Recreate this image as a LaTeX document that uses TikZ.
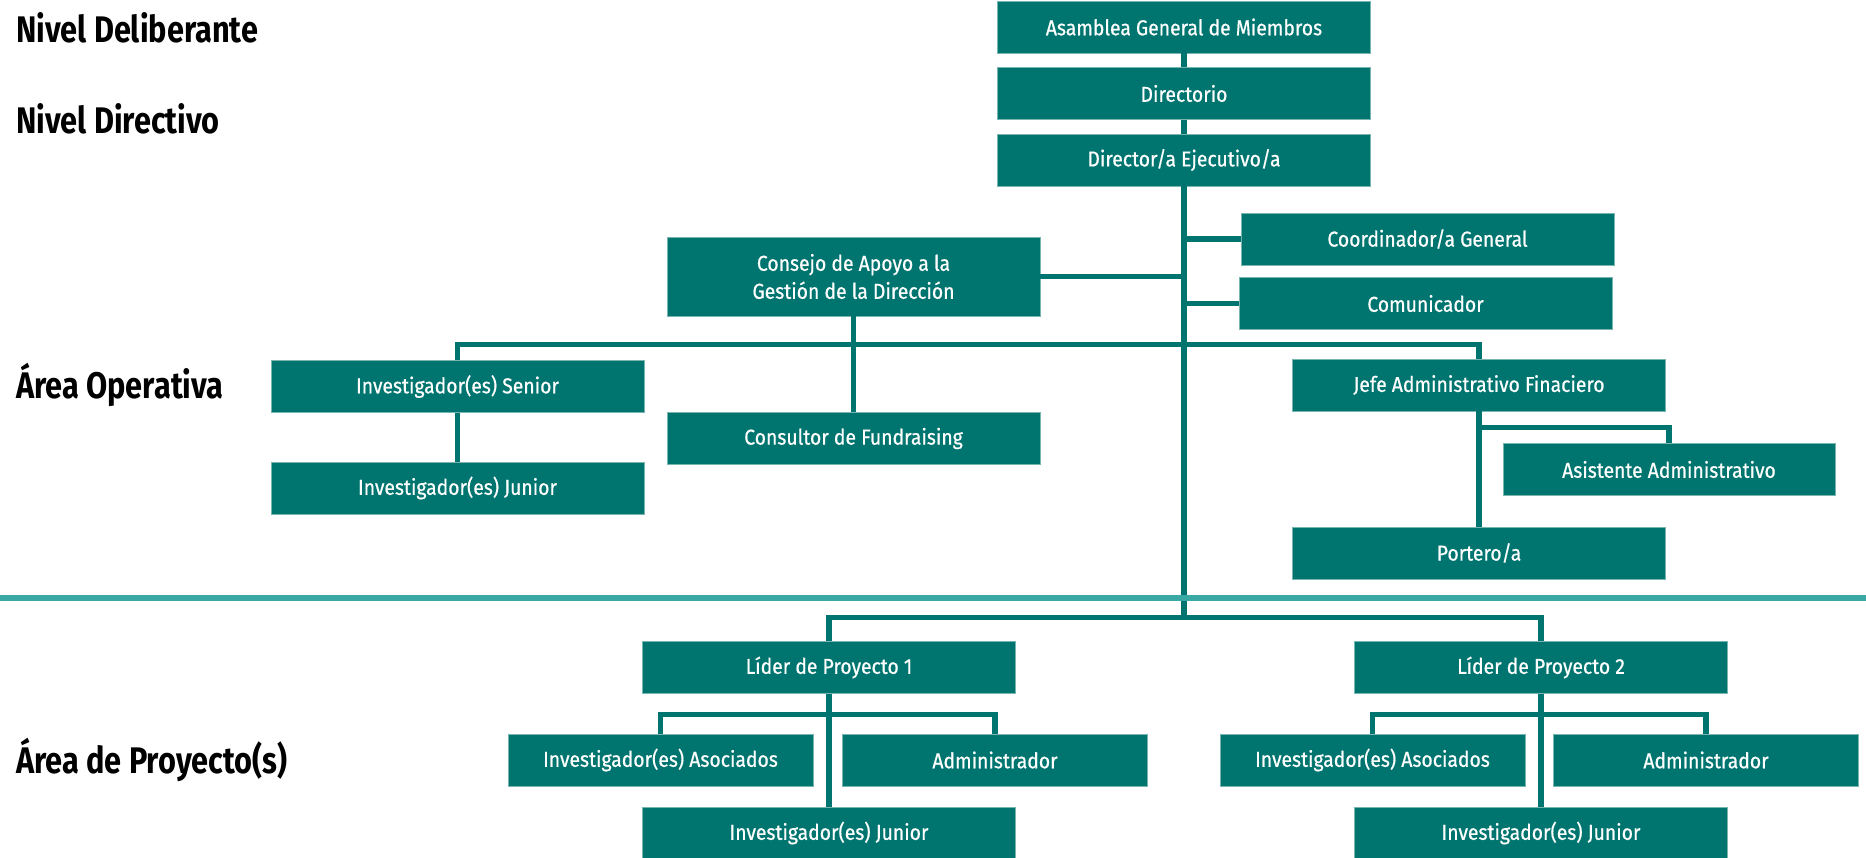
\documentclass[tikz,border=0pt]{standalone}
\usepackage{fontspec}
\setmainfont{Fira Sans}
\newfontfamily\boxfont[FakeStretch=0.9,FakeBold=0.6]{Fira Sans}
\newfontfamily\levelfont[FakeStretch=0.83]{Fira Sans}
\definecolor{orgteal}{RGB}{0,117,112}
\definecolor{orgedge}{RGB}{120,180,176}
\definecolor{sepline}{RGB}{58,168,165}

\begin{document}
\begin{tikzpicture}[x=1pt, y=-1pt, % <- one pixel per point
   box/.style={fill=orgteal, draw=orgedge, line width=0.8pt, text=white,
      minimum width=373pt, minimum height=52pt, inner sep=0pt, align=center,
      font=\boxfont\fontsize{21.5}{28}\selectfont},
   link/.style={draw=orgteal, line width=5.5pt},
   level/.style={anchor=base west, inner sep=0pt,
      font=\levelfont\bfseries\fontsize{37}{40}\selectfont}]
   \useasboundingbox (0,0) rectangle (1866,857);
   % Level labels
   \node [level] (deliberante) at (16,42) {Nivel Deliberante};
   \node [level] (directivo) at (16,133) {Nivel Directivo};
   \node [level] (operativa) at (16,398) {Área Operativa};
   \node [level] (proyectos) at (16,773) {Área de Proyecto(s)};
   % Direction
   \node [box] (asamblea) at (1184,27) {Asamblea General de Miembros};
   \node [box] (directorio) at (1184,93.5) {Directorio};
   \node [box] (director) at (1184,160) {Director/a Ejecutivo/a};
   \node [box] (coord) at (1427.5,239) {Coordinador/a General};
   \node [box] (comunic) at (1425.5,303.5) {Comunicador};
   \node [box, minimum height=79pt] (consejo) at (853.5,276.5) {Consejo de Apoyo a la\\Gestión de la Dirección};
   % Operative area
   \node [box] (senior) at (457.5,386.5) {Investigador(es) Senior};
   \node [box] (junior) at (457.5,488) {Investigador(es) Junior};
   \node [box] (consultor) at (853.5,438.5) {Consultor de Fundraising};
   \node [box] (jefe) at (1479,385) {Jefe Administrativo Finaciero};
   \node [box, minimum width=332pt] (asistente) at (1669,469.5) {Asistente Administrativo};
   \node [box] (portero) at (1479,553) {Portero/a};
   % Project area
   \node [box] (lider1) at (829,667.5) {Líder de Proyecto 1};
   \node [box, minimum width=305pt] (asoc1) at (660.5,760) {Investigador(es) Asociados};
   \node [box, minimum width=305pt] (admin1) at (995,760) {Administrador};
   \node [box] (junior1) at (829,833) {Investigador(es) Junior};
   \node [box] (lider2) at (1541,667.5) {Líder de Proyecto 2};
   \node [box, minimum width=305pt] (asoc2) at (1372.5,760) {Investigador(es) Asociados};
   \node [box, minimum width=305pt] (admin2) at (1706,760) {Administrador};
   \node [box] (junior2) at (1541,833) {Investigador(es) Junior};
   % Bus levels
   \coordinate (opbus) at (0,344.5);
   \coordinate (adminbus) at (0,427.5);
   \coordinate (trunk) at (1184,617.5);
   \coordinate (subbus) at (0,714.5);
   % Trunk
   \draw [link] (asamblea.south) -- (directorio.north);
   \draw [link] (directorio.south) -- (director.north);
   \draw [link] (director.south) -- (trunk);
   \draw [link] (coord.west) -- (coord.west -| director.south);
   \draw [link] (comunic.west) -- (comunic.west -| director.south);
   \draw [link] (consejo.east) -- (consejo.east -| director.south);
   % Operative links
   \draw [link] (senior.north) |- (jefe.north |- opbus) -- (jefe.north);
   \draw [link] (consejo.south) -- (consultor.north);
   \draw [link] (senior.south) -- (junior.north);
   \draw [link] (jefe.south) -- (portero.north);
   \draw [link] (jefe.south |- adminbus) -| (asistente.north);
   % Project links
   \draw [link] (lider1.north) |- (lider2.north |- trunk) -- (lider2.north);
   \draw [link] (lider1.south) -- (junior1.north);
   \draw [link] (asoc1.north) |- (admin1.north |- subbus) -- (admin1.north);
   \draw [link] (lider2.south) -- (junior2.north);
   \draw [link] (asoc2.north) |- (admin2.north |- subbus) -- (admin2.north);
   % Separator
   \draw [sepline, line width=6pt] (0,597.5) -- (1866,597.5);
\end{tikzpicture}
\end{document}
